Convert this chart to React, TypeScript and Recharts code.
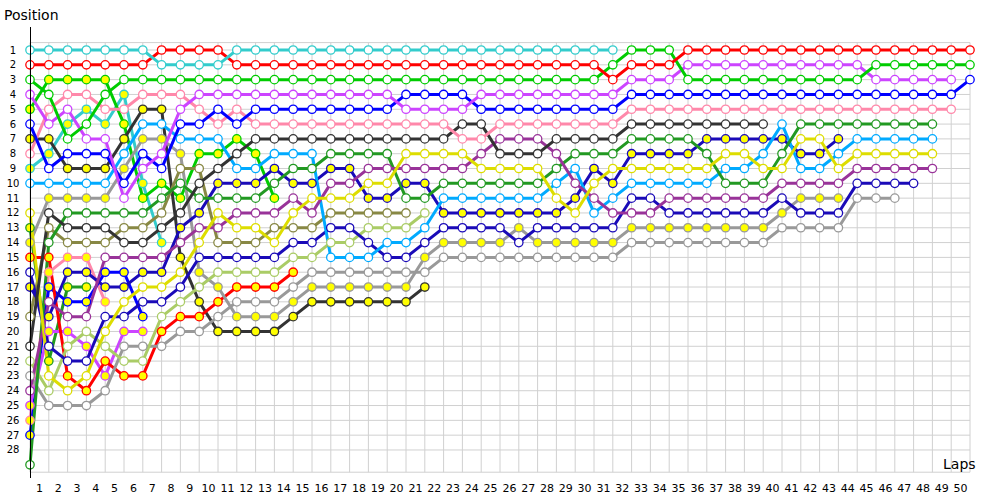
import React from 'react';
import { LineChart, Line, XAxis, YAxis, CartesianGrid } from 'recharts';

const N = null;

const laps = [0,1,2,3,4,5,6,7,8,9,10,11,12,13,14,15,16,17,18,19,20,21,22,23,24,25,26,27,28,29,30,31,32,33,34,35,36,37,38,39,40,41,42,43,44,45,46,47,48,49,50];
const positions = [1,2,3,4,5,6,7,8,9,10,11,12,13,14,15,16,17,18,19,20,21,22,23,24,25,26,27,28];

// position per lap (lap 0 .. lap 50), null = not running
const redOpen = [2,2,2,2,2,2,2,1,1,1, 1,2,2,2,2,2,2,2,2,2, 2,2,2,2,2,2,2,2,2,2, 2,3,2,2,2,1,1,1,1,1, 1,1,1,1,1,1,1,1,1,1, 1];
const cyanOpen = [1,1,1,1,1,1,1,2,2,2, 2,1,1,1,1,1,1,1,1,1, 1,1,1,1,1,1,1,1,1,1, 1,1,N,N,N,N,N,N,N,N, N,N,N,N,N,N,N,N,N,N, N];
const greenOpen = [3,4,7,6,4,3,3,3,3,3, 3,3,3,3,3,3,3,3,3,3, 3,3,3,3,3,3,3,3,3,3, 3,2,1,1,1,3,3,3,3,3, 3,3,3,3,3,2,2,2,2,2, 2];
const violetOpen = [4,6,5,7,7,11,9,8,5,4, 4,4,4,4,4,4,4,4,4,4, 5,5,5,5,4,4,4,4,4,4, 4,4,3,3,3,2,2,2,2,2, 2,2,2,2,2,3,3,3,3,3, N];
const blueOpen = [6,9,8,8,8,10,8,9,6,6, 5,6,5,5,5,5,5,5,5,5, 4,4,4,4,5,5,5,5,5,5, 5,5,4,4,4,4,4,4,4,4, 4,4,4,4,4,4,4,4,4,4, 3];
const pinkOpen = [8,5,4,4,5,5,4,4,4,5, 6,5,6,6,6,6,6,6,6,6, 6,6,6,7,7,6,6,6,6,6, 6,6,5,5,5,5,5,5,5,5, 5,5,5,5,5,5,5,5,5,5, N];
const darkGrayOpen = [21,12,13,13,13,14,14,13,12,10, 9,8,7,7,7,7,7,7,7,7, 7,7,7,6,6,8,8,8,7,7, 7,7,6,6,6,6,6,6,6,6, N,N,N,N,N,N,N,N,N,N, N];
const yellowOpen = [12,23,24,23,20,18,17,17,16,14, 12,13,13,14,12,11,11,11,10,10, 8,8,8,8,9,9,9,9,11,12, 10,9,9,9,9,9,9,8,8,9, 9,7,7,9,8,8,8,8,8,N, N];
const purpleOpen = [24,18,19,19,15,15,15,15,14,13, 13,12,12,12,11,12,10,10,9,9, 9,9,9,9,8,7,7,7,8,10, 11,12,12,12,11,11,11,11,11,11, 10,10,10,10,9,9,9,9,9,N, N];
const darkGreenOpen = [29,14,12,12,12,12,12,11,10,11, 11,11,11,10,9,9,8,8,8,8, 11,11,10,10,10,10,10,10,9,8, 8,8,7,7,7,7,8,10,10,10, 8,6,6,6,6,6,6,6,6,N, N];
const lightBlueOpen = [10,10,10,10,10,8,6,6,7,7, 7,9,9,8,8,8,15,15,15,14, 14,13,11,11,11,11,11,11,10,9, 12,11,10,10,10,10,10,9,9,8, 6,9,9,8,7,7,7,7,7,N, N];
const darkBlueFilled = [17,19,16,16,17,17,16,16,13,12, 10,10,10,9,10,10,9,9,11,11, 10,10,12,12,12,12,12,12,12,11, 9,10,8,8,8,8,7,7,7,7, 7,8,8,7,N,N,N,N,N,N, N];
const darkBlueOpen = [16,21,22,22,19,19,18,18,17,15, 15,15,15,15,14,14,13,13,14,15, 15,14,13,13,13,13,14,13,13,13, 13,13,11,11,12,12,12,12,12,12, 11,12,12,12,10,10,10,10,N,N, N];
const oliveOpen = [19,13,14,14,14,13,13,12,9,9, 14,14,14,13,13,13,12,12,12,12, 12,N,N,N,N,N,N,N,N,N, N,N,N,N,N,N,N,N,N,N, N,N,N,N,N,N,N,N,N,N, N];
const lightGreenOpen = [22,24,21,20,21,22,22,19,18,17, 16,16,16,16,15,15,14,14,13,13, 13,12,N,N,N,N,N,N,N,N, N,N,N,N,N,N,N,N,N,N, N,N,N,N,N,N,N,N,N,N, N];
const grayFilled = [14,11,11,11,11,9,7,7,8,16, 17,19,19,19,18,17,17,17,17,17, 17,15,14,14,14,14,13,14,14,14, 14,14,13,13,13,13,13,13,13,13, 12,11,11,11,N,N,N,N,N,N, N];
const grayOpen = [23,25,25,25,24,21,21,21,20,20, 19,18,18,18,17,16,16,16,16,16, 16,16,15,15,15,15,15,15,15,15, 15,15,14,14,14,14,14,14,14,14, 13,13,13,13,11,11,11,N,N,N, N];
const redFilled = [15,15,23,24,22,23,23,20,19,19, 18,17,17,17,16,N,N,N,N,N, N,N,N,N,N,N,N,N,N,N, N,N,N,N,N,N,N,N,N,N, N,N,N,N,N,N,N,N,N,N, N];
const darkGrayFilled = [7,7,9,9,9,7,5,5,15,18, 20,20,20,20,19,18,18,18,18,18, 18,17,N,N,N,N,N,N,N,N, N,N,N,N,N,N,N,N,N,N, N,N,N,N,N,N,N,N,N,N, N];
const greenFilled = [5,3,3,3,3,6,11,10,11,8, 8,7,8,11,N,N,N,N,N,N, N,N,N,N,N,N,N,N,N,N, N,N,N,N,N,N,N,N,N,N, N,N,N,N,N,N,N,N,N,N, N];
const cyanFilled = [9,8,6,5,6,4,10,14,N,N, N,N,N,N,N,N,N,N,N,N, N,N,N,N,N,N,N,N,N,N, N,N,N,N,N,N,N,N,N,N, N,N,N,N,N,N,N,N,N,N, N];
const violetFilled = [25,20,20,21,23,20,20,N,N,N, N,N,N,N,N,N,N,N,N,N, N,N,N,N,N,N,N,N,N,N, N,N,N,N,N,N,N,N,N,N, N,N,N,N,N,N,N,N,N,N, N];
const blueFilled = [27,17,18,18,16,16,19,N,N,N, N,N,N,N,N,N,N,N,N,N, N,N,N,N,N,N,N,N,N,N, N,N,N,N,N,N,N,N,N,N, N,N,N,N,N,N,N,N,N,N, N];
const pinkFilled = [26,16,15,15,18,N,N,N,N,N, N,N,N,N,N,N,N,N,N,N, N,N,N,N,N,N,N,N,N,N, N,N,N,N,N,N,N,N,N,N, N,N,N,N,N,N,N,N,N,N, N];
const darkGreenFilled = [13,22,17,17,N,N,N,N,N,N, N,N,N,N,N,N,N,N,N,N, N,N,N,N,N,N,N,N,N,N, N,N,N,N,N,N,N,N,N,N, N,N,N,N,N,N,N,N,N,N, N];

const series = [
  { key: 'darkGreenFilled', values: darkGreenFilled, color: '#229922', filled: true },
  { key: 'pinkFilled', values: pinkFilled, color: '#ff88aa', filled: true },
  { key: 'blueFilled', values: blueFilled, color: '#0000ff', filled: true },
  { key: 'violetFilled', values: violetFilled, color: '#cc44ff', filled: true },
  { key: 'cyanFilled', values: cyanFilled, color: '#33cccc', filled: true },
  { key: 'greenFilled', values: greenFilled, color: '#00cc00', filled: true },
  { key: 'darkGrayFilled', values: darkGrayFilled, color: '#333333', filled: true },
  { key: 'redFilled', values: redFilled, color: '#ff0000', filled: true },
  { key: 'grayOpen', values: grayOpen, color: '#999999', filled: false },
  { key: 'grayFilled', values: grayFilled, color: '#999999', filled: true },
  { key: 'lightGreenOpen', values: lightGreenOpen, color: '#aacc66', filled: false },
  { key: 'oliveOpen', values: oliveOpen, color: '#888844', filled: false },
  { key: 'darkBlueOpen', values: darkBlueOpen, color: '#1a0ab8', filled: false },
  { key: 'darkBlueFilled', values: darkBlueFilled, color: '#1a0ab8', filled: true },
  { key: 'lightBlueOpen', values: lightBlueOpen, color: '#00aaff', filled: false },
  { key: 'darkGreenOpen', values: darkGreenOpen, color: '#229922', filled: false },
  { key: 'purpleOpen', values: purpleOpen, color: '#993399', filled: false },
  { key: 'yellowOpen', values: yellowOpen, color: '#dddd00', filled: false },
  { key: 'darkGrayOpen', values: darkGrayOpen, color: '#333333', filled: false },
  { key: 'pinkOpen', values: pinkOpen, color: '#ff88aa', filled: false },
  { key: 'blueOpen', values: blueOpen, color: '#0000ff', filled: false },
  { key: 'violetOpen', values: violetOpen, color: '#cc44ff', filled: false },
  { key: 'greenOpen', values: greenOpen, color: '#00cc00', filled: false },
  { key: 'redOpen', values: redOpen, color: '#ff0000', filled: false },
  { key: 'cyanOpen', values: cyanOpen, color: '#33cccc', filled: false },
];

const chartData = laps.map((lap, i) => {
  const row: Record<string, number | null> = { lap };
  series.forEach((s) => {
    row[s.key] = s.values[i];
  });
  return row;
});

const FONT = '"DejaVu Sans", Verdana, sans-serif';

const makeDot = (color: string, filled: boolean) => (props: any) => {
  const { cx, cy, value, index } = props;
  const v = Array.isArray(value) ? value[1] : value;
  if (v == null || cx == null || cy == null || isNaN(cy)) return <g key={`d-${index}`} />;
  return (
    <circle
      key={`d-${index}`}
      cx={cx}
      cy={cy}
      r={4.2}
      fill={filled ? '#ffff00' : '#ffffff'}
      stroke={color}
      strokeWidth={1.3}
    />
  );
};

const XTick = (props: any) => {
  const { x, y, payload, halfStep } = props;
  if (payload.value === 0) return <g />;
  return (
    <text x={x - halfStep} y={y + 4} dy="0.71em" textAnchor="middle" fontSize={11} fontFamily={FONT} fill="#000">
      {payload.value}
    </text>
  );
};

const LeftTick = (props: any) => {
  const { y, payload } = props;
  return (
    <text x={13} y={y} dy="0.35em" textAnchor="middle" fontSize={10} fontFamily={FONT} fill="#000">
      {payload.value}
    </text>
  );
};

const RightTick = (props: any) => {
  const { x, y, payload } = props;
  return (
    <text x={x + 5} y={y} dy="0.35em" textAnchor="start" fontSize={10} fontFamily={FONT} fill="#000">
      {payload.value}
    </text>
  );
};

export default function App() {
  const W = 1000;
  const H = 500;
  const plotLeft = 30;
  const plotRight = 970;
  const halfStep = (plotRight - plotLeft) / (laps.length - 1) / 2;
  return (
    <div style={{ position: 'absolute', left: 0, top: 0, width: W, height: H, background: '#fff' }}>
      <LineChart width={W} height={H} data={chartData} margin={{ top: 42.6, right: 0, bottom: 0, left: 0 }}>
        <CartesianGrid stroke="#d0d0d0" strokeWidth={1} />
        <XAxis
          dataKey="lap"
          type="number"
          domain={[0, 50]}
          ticks={laps}
          interval={0}
          height={27.8}
          tickLine={false}
          axisLine={false}
          tick={<XTick halfStep={halfStep} />}
        />
        <YAxis
          yAxisId={0}
          type="number"
          domain={[0.5, 29.5]}
          reversed
          ticks={positions}
          interval={0}
          width={30}
          tickLine={false}
          axisLine={false}
          tick={<LeftTick />}
        />
        <YAxis
          yAxisId="r"
          orientation="right"
          type="number"
          domain={[0.5, 29.5]}
          reversed
          ticks={positions}
          interval={0}
          width={30}
          tickLine={false}
          axisLine={false}
          tick={<RightTick />}
        />
        {series.map((s) => (
          <Line
            key={`l-${s.key}`}
            yAxisId={0}
            type="linear"
            dataKey={s.key}
            stroke={s.color}
            strokeWidth={3}
            dot={false}
            activeDot={false}
            connectNulls={false}
            isAnimationActive={false}
          />
        ))}
        {series.map((s) => (
          <Line
            key={`p-${s.key}`}
            yAxisId={0}
            type="linear"
            dataKey={s.key}
            stroke="none"
            strokeWidth={0}
            dot={makeDot(s.color, s.filled)}
            activeDot={false}
            connectNulls={false}
            isAnimationActive={false}
          />
        ))}
      </LineChart>
      <div style={{ position: 'absolute', left: 30, top: 27, width: 1, height: 451, background: '#000' }} />
      <div style={{ position: 'absolute', left: 4, top: 7, fontFamily: FONT, fontSize: 14, color: '#000' }}>Position</div>
      <div style={{ position: 'absolute', left: 943, top: 456, fontFamily: FONT, fontSize: 14, color: '#000' }}>Laps</div>
    </div>
  );
}
